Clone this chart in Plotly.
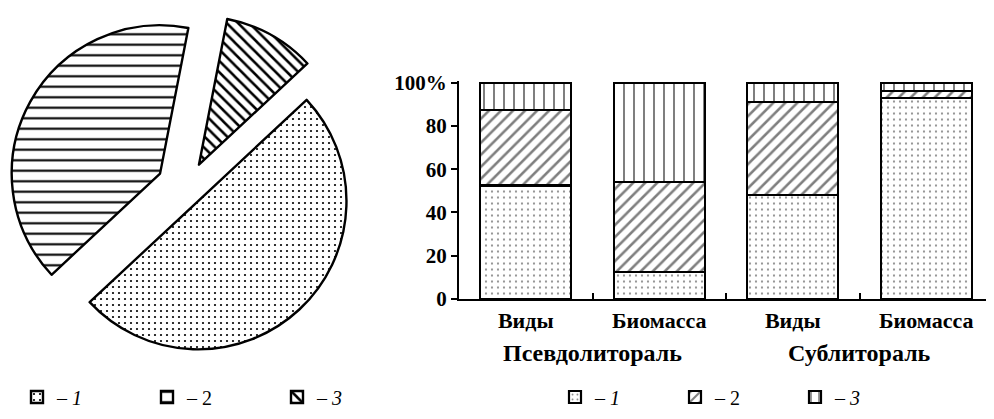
import plotly.graph_objects as go

# ---- data ----
pie_labels = ["– <i>1</i>", "– 2", "– <i>3</i>"]
pie_values = [50, 40, 10]

bar_x = [0, 1, 2, 3]
sub_labels = ["Виды", "Биомасса", "Виды", "Биомасса"]
group_labels = ["Псевдолитораль", "Сублитораль"]
group_pos = [0.5, 2.5]
series_names = ["– <i>1</i>", "– 2", "– <i>3</i>"]
s1 = [52.5, 12.5, 48, 93]
s2 = [35, 41.5, 43, 3]
s3 = [12.5, 46, 9, 4]
y_ticks = [0, 20, 40, 60, 80, 100]
y_ticktext = ["0", "20", "40", "60", "80", "100%"]

W, H = 994, 419
OFF = 8  # page body margin
FONT = "Liberation Serif"


def px_x(x):
    return (x - OFF) / W


def px_y(y):
    return 1 - (y - OFF) / H


fig = go.Figure()

# pie
fig.add_trace(go.Pie(
    labels=pie_labels, values=pie_values, sort=False, direction="clockwise",
    rotation=47, pull=[0.12, 0.2, 0.18], textinfo="none", hoverinfo="label+percent",
    marker=dict(colors=["white"] * 3, line=dict(color="black", width=2.4),
                pattern=dict(shape=[".", "-", "\\"], fgcolor="black", bgcolor="white",
                             size=[6, 10.5, 8], solidity=[0.11, 0.2, 0.32])),
    domain=dict(x=[0, 356 / W], y=[1 - 358 / H, 1 - 2 / H]),
    legend="legend",
))

patterns = [(".", 6, 0.11), ("/", 8.5, 0.3), ("|", 10, 0.2)]
for name, vals, (shp, sz, sol) in zip(series_names, [s1, s2, s3], patterns):
    fig.add_trace(go.Bar(
        x=bar_x, y=vals, name=name, legend="legend2",
        marker=dict(color="white", line=dict(color="black", width=2.2),
                    pattern=dict(shape=shp, fgcolor="black", bgcolor="white",
                                 size=sz, solidity=sol)),
    ))

for g, p in zip(group_labels, group_pos):
    fig.add_annotation(x=p, xref="x", y=px_y(353), yref="paper", text=f"<b>{g}</b>",
                       showarrow=False, font=dict(family=FONT, size=24, color="black"),
                       xanchor="center", yanchor="middle")

fig.update_layout(
    width=W, height=H, barmode="stack", bargap=0.32,
    margin=dict(l=0, r=0, t=0, b=0, autoexpand=False),
    paper_bgcolor="white", plot_bgcolor="white",
    font=dict(family=FONT, size=20, color="black"),
    xaxis=dict(domain=[px_x(459), px_x(993)], range=[-0.5, 3.5],
               tickvals=bar_x, ticktext=[f"<b>{t}</b>" for t in sub_labels],
               ticks="", showline=True, linecolor="black", linewidth=2.2,
               showgrid=False, zeroline=False,
               tickfont=dict(family=FONT, size=22, color="black"),
               minor=dict(tickmode="array", tickvals=[0.5, 1.5, 2.5, 3.5],
                          ticks="inside", ticklen=6, tickwidth=2, tickcolor="black",
                          showgrid=False)),
    yaxis=dict(domain=[px_y(299), px_y(80.5)], range=[0, 101],
               tickvals=y_ticks, ticktext=[f"<b>{t}</b>" for t in y_ticktext],
               ticks="outside", ticklen=6, tickwidth=2, tickcolor="black",
               showline=True, linecolor="black", linewidth=2.2,
               showgrid=False, zeroline=False,
               tickfont=dict(family=FONT, size=21, color="black")),
    legend=dict(orientation="h", x=px_x(17), y=px_y(397), xanchor="left", yanchor="middle",
                entrywidth=85, font=dict(family=FONT, size=20, color="black"),
                bgcolor="rgba(0,0,0,0)", traceorder="normal"),
    legend2=dict(orientation="h", x=px_x(555), y=px_y(397), xanchor="left", yanchor="middle",
                 entrywidth=75, font=dict(family=FONT, size=20, color="black"),
                 bgcolor="rgba(0,0,0,0)", traceorder="normal"),
    showlegend=True,
)

fig.write_html("out.html")
